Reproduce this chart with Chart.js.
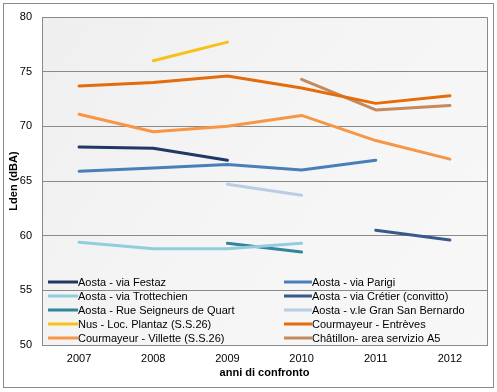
<!DOCTYPE html>
<html><head><meta charset="utf-8">
<script src="https://cdn.jsdelivr.net/npm/chart.js@4/dist/chart.umd.min.js"></script>
<style>html,body{margin:0;padding:0;background:#fff}#wrap{width:497px;height:392px}</style>
</head><body><div id="wrap"><canvas id="c" width="497" height="392"></canvas></div>
<script>
const categories = ['2007','2008','2009','2010','2011','2012'];
const yTicks = [50, 55, 60, 65, 70, 75, 80];
const seriesNames = [
  'Aosta - via Festaz', 'Aosta - via Parigi',
  'Aosta - via Trottechien', 'Aosta - via Crétier (convitto)',
  'Aosta - Rue Seigneurs de Quart', 'Aosta - v.le Gran San Bernardo',
  'Nus - Loc. Plantaz (S.S.26)', 'Courmayeur - Entrèves',
  'Courmayeur - Villette (S.S.26)', 'Châtillon- area servizio A5'
];
const festaz       = [68.1, 68.0, 66.9, null, null, null];
const parigi       = [65.9, 66.2, 66.5, 66.0, 66.9, null];
const trottechien  = [59.4, 58.8, 58.8, 59.3, null, null];
const cretier      = [null, null, null, null, 60.5, 59.6];
const seigneurs    = [null, null, 59.3, 58.5, null, null];
const granBernardo = [null, null, 64.7, 63.7, null, null];
const nus          = [null, 76.0, 77.7, null, null, null];
const entreves     = [73.7, 74.0, 74.6, 73.5, 72.1, 72.8];
const villette     = [71.1, 69.5, 70.0, 71.0, 68.7, 67.0];
const chatillon    = [null, null, null, 74.3, 71.5, 71.9];

const seriesValues = [festaz, parigi, trottechien, cretier, seigneurs, granBernardo, nus, entreves, villette, chatillon];
const seriesColors = ['#1F3864','#4A7EBB','#93CDDD','#375A8A','#31859C','#B9CDE5','#F8C01A','#E46C0A','#F79646','#C48A5E'];

const FONT = 'Liberation Sans, Arial, sans-serif';

const bgPlugin = {
  id: 'bg',
  beforeDraw(chart) {
    const ctx = chart.ctx, a = chart.chartArea;
    ctx.save();
    ctx.fillStyle = '#fff';
    ctx.fillRect(0, 0, chart.width, chart.height);
    const g = ctx.createLinearGradient(a.left, a.top, a.right, a.bottom);
    g.addColorStop(0, '#EFEFEF');
    g.addColorStop(0.5, '#F5F5F5');
    g.addColorStop(1, '#F8F8F8');
    ctx.fillStyle = g;
    ctx.fillRect(a.left, a.top, a.right - a.left, a.bottom - a.top);
    ctx.strokeStyle = '#8A8A8A';
    ctx.lineWidth = 1;
    ctx.strokeRect(3.5, 3.5, 490, 384);
    ctx.restore();
  },
  afterDraw(chart) {
    const ctx = chart.ctx, a = chart.chartArea;
    ctx.save();
    ctx.strokeStyle = '#8A8A8A';
    ctx.lineWidth = 1;
    ctx.beginPath();
    ctx.moveTo(a.left, Math.round(a.top) + 0.5);
    ctx.lineTo(Math.round(a.right) + 0.5, Math.round(a.top) + 0.5);
    ctx.lineTo(Math.round(a.right) + 0.5, a.bottom);
    ctx.stroke();
    // legend
    const rows = 5, y0 = 282, dy = 14;
    const cols = [{x1: 48, x2: 78}, {x1: 284, x2: 312}];
    ctx.font = '11px ' + FONT;
    ctx.textBaseline = 'middle';
    ctx.textAlign = 'left';
    chart.data.datasets.forEach((ds, i) => {
      const c = cols[i % 2];
      const y = y0 + Math.floor(i / 2) * dy;
      ctx.strokeStyle = ds.borderColor;
      ctx.lineWidth = 3;
      ctx.lineCap = 'butt';
      ctx.beginPath();
      ctx.moveTo(c.x1, y);
      ctx.lineTo(c.x2, y);
      ctx.stroke();
      ctx.fillStyle = '#000';
      ctx.fillText(ds.label, c.x2, y + 0.5);
    });
    ctx.restore();
  }
};

new Chart(document.getElementById('c'), {
  type: 'line',
  data: {
    labels: categories,
    datasets: seriesNames.map((name, i) => ({
      label: name,
      data: seriesValues[i],
      borderColor: seriesColors[i],
      backgroundColor: seriesColors[i],
      borderWidth: 3,
      pointRadius: 0,
      tension: 0,
      spanGaps: false,
      borderCapStyle: 'round',
      borderJoinStyle: 'round',
      fill: false
    }))
  },
  options: {
    responsive: false,
    devicePixelRatio: 1,
    animation: false,
    layout: { padding: { left: 0, top: 17, right: 10, bottom: 0 } },
    plugins: { legend: { display: false }, tooltip: { enabled: false } },
    scales: {
      x: {
        offset: true,
        afterFit(s) { s.height = 47; },
        grid: { display: false, drawTicks: false },
        border: { display: true, color: '#8A8A8A' },
        ticks: { color: '#000', font: { family: FONT, size: 11 }, padding: 7, maxRotation: 0 },
        title: { display: true, text: 'anni di confronto', color: '#000', font: { family: FONT, size: 11, weight: 'bold' }, padding: { top: 0, bottom: 12 } }
      },
      y: {
        min: 50, max: 80,
        afterFit(s) { s.width = 42; },
        afterBuildTicks(s) { s.ticks = yTicks.map(v => ({ value: v })); },
        grid: { color: '#8A8A8A', drawTicks: false },
        border: { display: true, color: '#8A8A8A' },
        ticks: { color: '#000', font: { family: FONT, size: 11 }, padding: 10 },
        title: { display: true, text: 'Lden (dBA)', color: '#000', font: { family: FONT, size: 11, weight: 'bold' }, padding: { top: 7, bottom: 0 } }
      }
    }
  },
  plugins: [bgPlugin]
});
</script>
</body></html>
